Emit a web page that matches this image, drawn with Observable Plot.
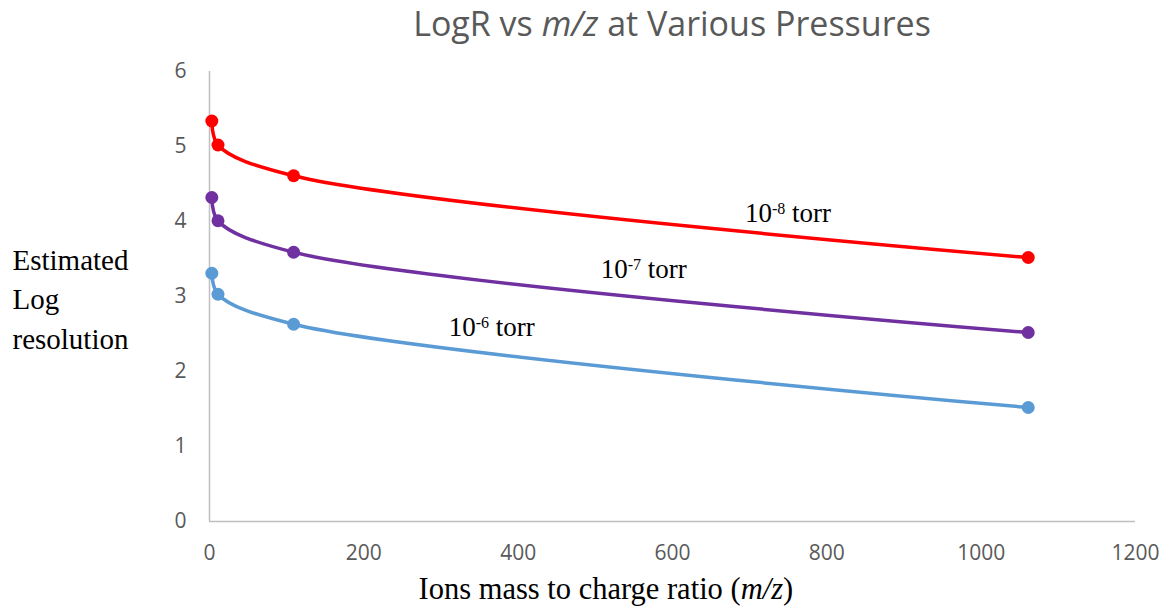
<!DOCTYPE html>
<html>
<head>
<meta charset="utf-8">
<script src="https://cdn.jsdelivr.net/npm/d3@7"></script>
<script src="https://cdn.jsdelivr.net/npm/@observablehq/plot@0.6"></script>
<style>
  body { margin: 0; background: #fff; }
  #wrap { position: relative; width: 1167px; height: 607px; overflow: hidden; }
  #title {
    position: absolute; left: 209px; width: 926px; top: 0px;
    text-align: center; font-family: "Open Sans", sans-serif; font-size: 34px;
    line-height: normal; color: #595959; white-space: nowrap;
  }
  #chart { position: absolute; left: 0; top: 0; }
</style>
</head>
<body>
<div id="wrap">
  <div id="chart"></div>
  <div id="title">LogR vs <i>m/z</i> at Various Pressures</div>
</div>
<script>
// ---- data ----
const mz = [3, 11, 109, 1061];
const logR_1e8 = [5.34, 5.02, 4.61, 3.52];
const logR_1e7 = [4.32, 4.01, 3.59, 2.52];
const logR_1e6 = [3.31, 3.03, 2.63, 1.52];
const seriesNames = ["10^-8 torr", "10^-7 torr", "10^-6 torr"];
const seriesValues = [logR_1e8, logR_1e7, logR_1e6];
const seriesColors = ["#ff0000", "#7030a0", "#5b9bd5"];
const xTicks = [0, 200, 400, 600, 800, 1000, 1200];
const yTicks = [0, 1, 2, 3, 4, 5, 6];
// annotation anchor points (data units)
const annotMz = [694, 507, 310];
const annotLogR = [3.99, 3.25, 2.48];
const yLabel = "Estimated\nLog\nresolution";
const xLabel = "Ions mass to charge ratio (m/z)";

// ---- build tables ----
const rows = [];
seriesNames.forEach((s, i) => mz.forEach((x, j) => rows.push({series: s, mz: x, logR: seriesValues[i][j]})));
const annots = seriesNames.map((s, i) => ({text: s, mz: annotMz[i], logR: annotLogR[i]}));

const serif = "'Liberation Serif', 'Times New Roman', serif";

const plot = Plot.plot({
  width: 1167,
  height: 607,
  marginTop: 71,
  marginBottom: 86,
  marginLeft: 209,
  marginRight: 32,
  style: {background: "transparent", fontFamily: "'Open Sans', sans-serif", overflow: "visible"},
  x: {domain: [0, 1200]},
  y: {domain: [0, 6]},
  color: {domain: seriesNames, range: seriesColors},
  marks: [
    Plot.ruleY([0], {stroke: "#bfbfbf", strokeWidth: 1.5}),
    Plot.ruleX([0], {stroke: "#bfbfbf", strokeWidth: 1.5}),
    Plot.axisX({ticks: xTicks, tickSize: 0, tickPadding: 24, fontSize: 21, color: "#595959", label: null, tickFormat: d => String(d)}),
    Plot.axisY({ticks: yTicks, tickSize: 0, tickPadding: 23, fontSize: 21, color: "#595959", label: null, tickFormat: d => String(d)}),
    Plot.line(rows, {x: "mz", y: "logR", stroke: "series", strokeWidth: 3.5, curve: "catmull-rom"}),
    Plot.dot(rows, {x: "mz", y: "logR", fill: "series", r: 6.5}),
    Plot.text(annots, {x: "mz", y: "logR", text: "text", textAnchor: "start", lineAnchor: "bottom",
      fontSize: 27, fontFamily: serif, fill: "black", className: "anno"}),
    Plot.text([yLabel], {frameAnchor: "left", dx: -197, textAnchor: "start", lineAnchor: "middle",
      lineHeight: 1.36, fontSize: 29, fontFamily: serif, fill: "black"}),
    Plot.text([xLabel], {frameAnchor: "bottom-left", dx: 209, dy: 77, textAnchor: "start", lineAnchor: "bottom",
      fontSize: 30.5, fontFamily: serif, fill: "black", className: "xlabel"})
  ]
});

// superscript exponents in annotations
plot.querySelectorAll("g.anno text").forEach(t => {
  const m = t.textContent.match(/^(.*?)\^(\S+)(.*)$/);
  if (!m) return;
  t.textContent = "";
  const ns = "http://www.w3.org/2000/svg";
  t.appendChild(document.createTextNode(m[1]));
  const sup = document.createElementNS(ns, "tspan");
  sup.setAttribute("dy", "-8");
  sup.setAttribute("font-size", "16");
  sup.textContent = m[2];
  t.appendChild(sup);
  const rest = document.createElementNS(ns, "tspan");
  rest.setAttribute("dy", "8");
  rest.textContent = m[3];
  t.appendChild(rest);
});
// italic m/z in x label
plot.querySelectorAll("g.xlabel text").forEach(t => {
  const s = t.textContent;
  const i = s.indexOf("m/z");
  if (i < 0) return;
  const ns = "http://www.w3.org/2000/svg";
  t.textContent = "";
  t.appendChild(document.createTextNode(s.slice(0, i)));
  const it = document.createElementNS(ns, "tspan");
  it.setAttribute("font-style", "italic");
  it.textContent = "m/z";
  t.appendChild(it);
  t.appendChild(document.createTextNode(s.slice(i + 3)));
});

document.getElementById("chart").appendChild(plot);
</script>
</body>
</html>
